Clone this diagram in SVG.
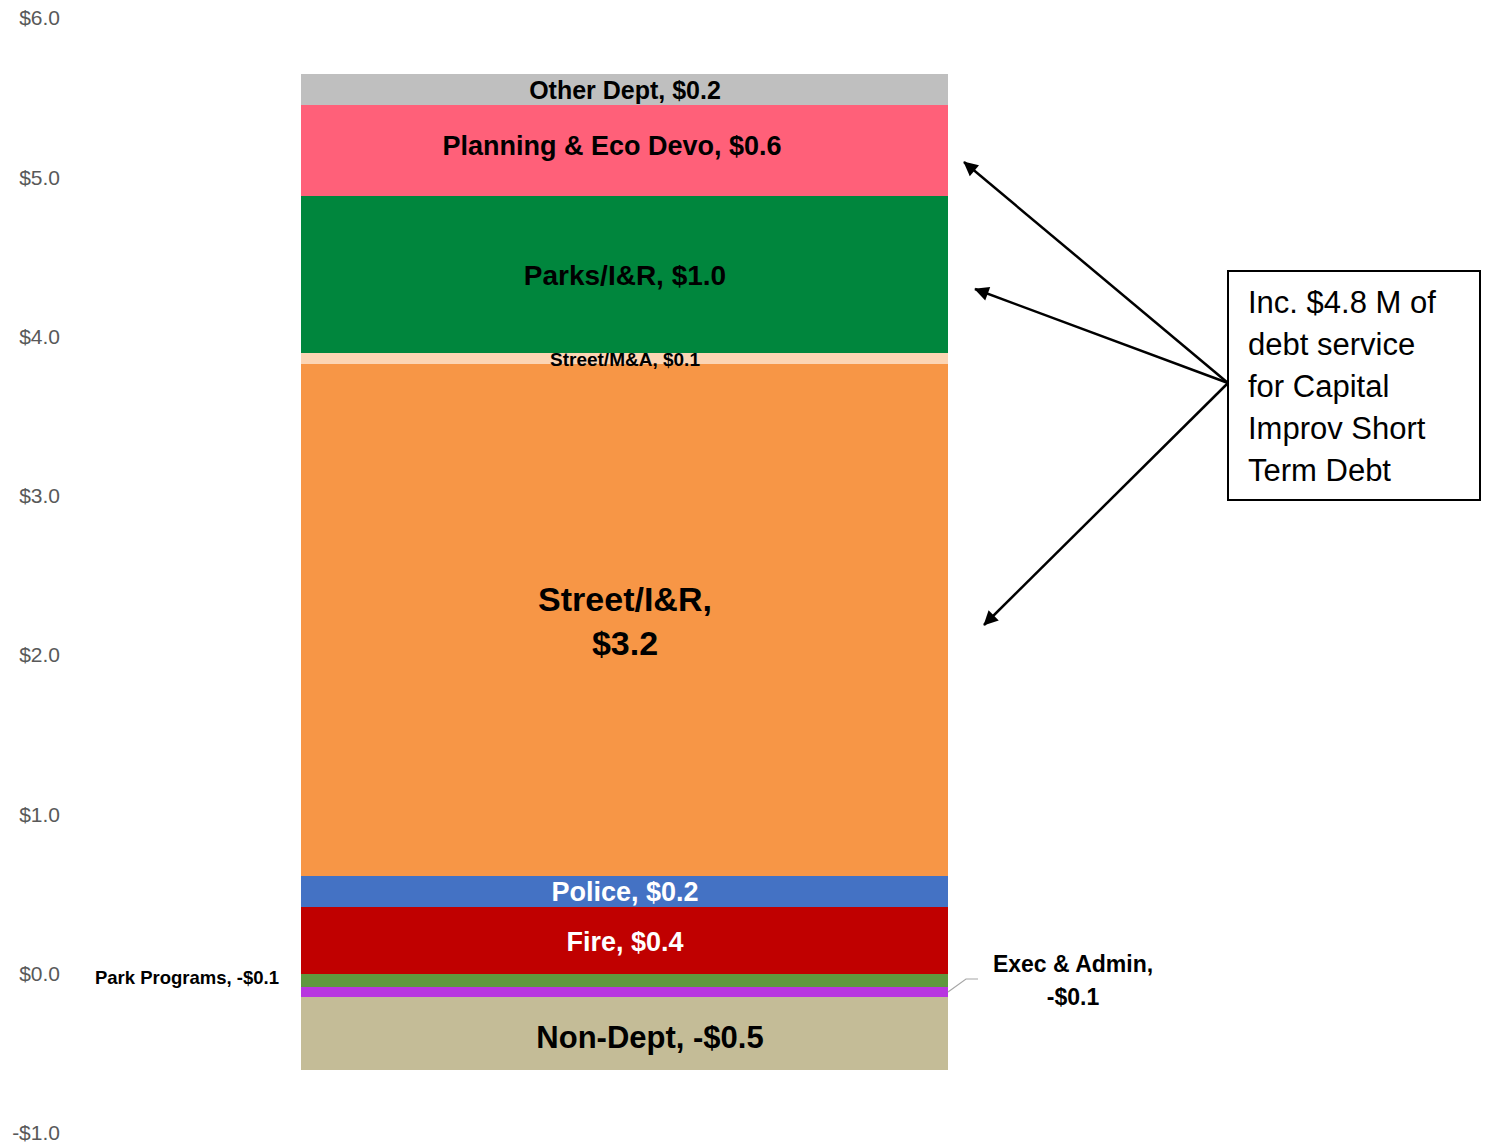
<svg xmlns="http://www.w3.org/2000/svg" width="1486" height="1144" viewBox="0 0 1486 1144">
<style>
.ax{font-family:"Liberation Sans",Arial,sans-serif;font-size:21px;fill:#595959;text-anchor:end}
.lb{font-family:"Liberation Sans",Arial,sans-serif;font-weight:bold;fill:#000;text-anchor:middle}
.w{fill:#fff}
.note{font-family:"Liberation Sans",Arial,sans-serif;font-size:31px;fill:#000}
.conn{stroke:#000;stroke-width:2.5;fill:none}
</style>
<defs>
<marker id="ah" viewBox="0 0 10 10" refX="9" refY="5" markerWidth="9" markerHeight="9" markerUnits="userSpaceOnUse" orient="auto" overflow="visible">
<path d="M0,0 L10,5 L0,10 z" fill="#000" transform="scale(1.6) translate(-3.8,-1.9)"/>
</marker>
</defs>
<rect width="1486" height="1144" fill="#fff"/>
<g id="axis">
<text class="ax" x="60" y="25">$6.0</text>
<text class="ax" x="60" y="185">$5.0</text>
<text class="ax" x="60" y="344">$4.0</text>
<text class="ax" x="60" y="503">$3.0</text>
<text class="ax" x="60" y="662">$2.0</text>
<text class="ax" x="60" y="822">$1.0</text>
<text class="ax" x="60" y="981">$0.0</text>
<text class="ax" x="60" y="1140">-$1.0</text>
</g>
<g id="other-dept"><rect x="301" y="74" width="647" height="31" fill="#BFBFBF"/><text class="lb" x="625" y="99" font-size="25">Other Dept, $0.2</text></g>
<g id="planning"><rect x="301" y="105" width="647" height="91" fill="#FF6079"/><text class="lb" x="612" y="155" font-size="27">Planning &amp; Eco Devo, $0.6</text></g>
<g id="parks"><rect x="301" y="196" width="647" height="157" fill="#00863D"/><text class="lb" x="625" y="285" font-size="28">Parks/I&amp;R, $1.0</text></g>
<g id="street-ma"><rect x="301" y="353" width="647" height="11" fill="#FCD5B4"/></g>
<g id="street-ir"><rect x="301" y="364" width="647" height="512" fill="#F79646"/><text class="lb" x="625" y="611" font-size="34">Street/I&amp;R,</text><text class="lb" x="625" y="655" font-size="34">$3.2</text></g>
<text class="lb" x="625" y="366" font-size="19">Street/M&amp;A, $0.1</text>
<g id="police"><rect x="301" y="876" width="647" height="31" fill="#4472C4"/><text class="lb w" x="625" y="901" font-size="27">Police, $0.2</text></g>
<g id="fire"><rect x="301" y="907" width="647" height="67" fill="#C00000"/><text class="lb w" x="625" y="951" font-size="27">Fire, $0.4</text></g>
<g id="park-programs"><rect x="301" y="974" width="647" height="13" fill="#5F983F"/><text class="lb" x="187" y="984" font-size="18.5">Park Programs, -$0.1</text></g>
<g id="exec-admin"><rect x="301" y="987" width="647" height="10" fill="#B835E0"/><text class="lb" x="1073" y="972" font-size="23">Exec &amp; Admin,</text><text class="lb" x="1073" y="1005" font-size="23">-$0.1</text></g>
<g id="non-dept"><rect x="301" y="997" width="647" height="73" fill="#C4BC97"/><text class="lb" x="650" y="1048" font-size="31">Non-Dept, -$0.5</text></g>
<g id="note"><rect x="1228" y="271" width="252" height="229" fill="#fff" stroke="#000" stroke-width="2"/>
<text class="note" x="1248" y="313">Inc. $4.8 M of</text>
<text class="note" x="1248" y="355">debt service</text>
<text class="note" x="1248" y="397">for Capital</text>
<text class="note" x="1248" y="439">Improv Short</text>
<text class="note" x="1248" y="481">Term Debt</text>
</g>
<g id="connectors">
<polyline points="948,992 966,979 978,979" fill="none" stroke="#A6A6A6" stroke-width="1.2"/>
<line class="conn" x1="1228" y1="383" x2="964" y2="162" marker-end="url(#ah)"/>
<line class="conn" x1="1228" y1="383" x2="975" y2="289" marker-end="url(#ah)"/>
<line class="conn" x1="1228" y1="383" x2="984" y2="625" marker-end="url(#ah)"/>
</g>
</svg>
